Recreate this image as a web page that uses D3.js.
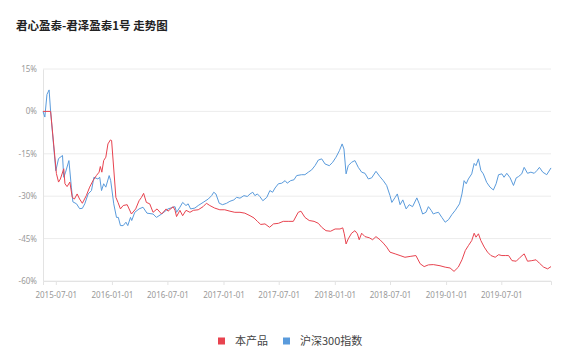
<!DOCTYPE html>
<html><head><meta charset="utf-8">
<script src="https://cdn.jsdelivr.net/npm/d3@7"></script>
<style>body{margin:0;background:#fff}svg{display:block}</style>
</head><body><svg id="c" width="580" height="357"></svg>
<script>
const title = "君心盈泰-君泽盈泰1号 走势图";
const seriesNames = ["本产品", "沪深300指数"];
const seriesColors = ["#e8434f", "#5a9bdc"];
const yTicks = [15, 0, -15, -30, -45, -60];
const xTickLabels = ["2015-07-01","2016-01-01","2016-07-01","2017-01-01","2017-07-01","2018-01-01","2018-07-01","2019-01-01","2019-07-01"];
const startDate = "2015-05-20", endDate = "2019-12-11";

const productDates = ["2015-05-20","2015-06-14","2015-07-03","2015-07-10","2015-07-16","2015-07-27","2015-07-31","2015-08-07","2015-08-16","2015-08-24","2015-08-31","2015-09-09","2015-09-17","2015-09-26","2015-10-09","2015-10-20","2015-10-31","2015-11-11","2015-11-20","2015-11-24","2015-11-29","2015-12-05","2015-12-12","2015-12-19","2015-12-27","2015-12-31","2016-01-14","2016-01-21","2016-01-29","2016-02-07","2016-02-20","2016-03-05","2016-03-19","2016-03-30","2016-04-07","2016-04-14","2016-04-23","2016-05-04","2016-05-15","2016-05-28","2016-06-12","2016-06-27","2016-07-03","2016-07-20","2016-07-26","2016-07-31","2016-08-11","2016-08-20","2016-08-31","2016-09-13","2016-09-24","2016-10-10","2016-10-26","2016-11-06","2016-11-17","2016-12-03","2016-12-20","2017-01-05","2017-01-22","2017-02-07","2017-02-24","2017-03-12","2017-03-29","2017-04-11","2017-04-22","2017-05-03","2017-05-17","2017-06-01","2017-06-14","2017-06-30","2017-07-16","2017-08-01","2017-08-18","2017-09-03","2017-09-12","2017-09-25","2017-10-09","2017-10-25","2017-11-08","2017-11-19","2017-12-03","2017-12-18","2018-01-02","2018-01-18","2018-01-27","2018-02-01","2018-02-07","2018-02-14","2018-02-25","2018-03-08","2018-03-16","2018-03-22","2018-03-30","2018-04-10","2018-04-24","2018-05-05","2018-05-16","2018-05-29","2018-06-09","2018-06-20","2018-07-01","2018-07-18","2018-08-03","2018-08-19","2018-09-05","2018-09-24","2018-10-08","2018-10-21","2018-11-04","2018-11-20","2018-12-12","2018-12-29","2019-01-14","2019-01-27","2019-02-10","2019-02-22","2019-03-05","2019-03-15","2019-03-26","2019-04-03","2019-04-09","2019-04-17","2019-04-25","2019-05-06","2019-05-17","2019-05-28","2019-06-11","2019-06-22","2019-07-03","2019-07-14","2019-07-25","2019-08-05","2019-08-19","2019-09-01","2019-09-14","2019-09-25","2019-10-09","2019-10-23","2019-11-03","2019-11-17","2019-11-30","2019-12-11"];
const productValues = [0,0,-22,-25,-23.9,-20.3,-25.6,-26.6,-25,-30.4,-31,-29.2,-31,-32.5,-29.8,-26.8,-24.5,-22.7,-21.5,-19.5,-21.5,-17.4,-16.2,-11.5,-10.1,-10.3,-30.4,-32.2,-34.5,-33.3,-33,-36.3,-34.5,-31.6,-30.4,-29,-32.2,-32.7,-35.7,-34.5,-36.3,-34.5,-35.3,-33.7,-35,-37.2,-35,-36.9,-35,-35.7,-35,-34.8,-33.7,-32.5,-33.3,-34.2,-34.8,-34.8,-35.3,-35.7,-35.7,-36,-36.9,-37.7,-38.9,-40,-39.8,-41,-39.8,-39.6,-38.9,-38.9,-38.9,-35.7,-35.3,-37.5,-38.6,-38.9,-39.6,-41,-42.2,-42.4,-41.6,-41.6,-41.2,-43.3,-46.9,-45.1,-43.1,-42.2,-43.3,-45.4,-43.1,-44.3,-44.7,-45.4,-44.3,-45.4,-46.6,-48,-49.8,-50.4,-51,-51.6,-51.3,-51,-53.9,-54.9,-54.3,-54.2,-54.6,-55.1,-55.4,-56.6,-55.1,-52.5,-49.2,-47.5,-45.7,-43.1,-44.5,-43.3,-45.7,-48,-49.8,-51,-51.6,-50.7,-51,-51,-51,-52.8,-53,-51.6,-50.4,-53,-52.8,-52.5,-53.7,-55.1,-55.7,-54.9];

const indexDates = ["2015-05-20","2015-05-26","2015-06-02","2015-06-09","2015-06-14","2015-07-01","2015-07-10","2015-07-23","2015-07-27","2015-08-02","2015-08-13","2015-08-21","2015-08-26","2015-09-07","2015-09-17","2015-09-26","2015-10-04","2015-10-15","2015-10-26","2015-11-03","2015-11-16","2015-11-22","2015-11-28","2015-12-05","2015-12-12","2015-12-23","2015-12-28","2016-01-07","2016-01-16","2016-01-22","2016-01-29","2016-02-07","2016-02-16","2016-02-22","2016-03-02","2016-03-06","2016-03-16","2016-03-30","2016-04-12","2016-04-25","2016-05-15","2016-05-26","2016-06-12","2016-07-03","2016-07-20","2016-07-26","2016-07-31","2016-08-11","2016-08-20","2016-08-31","2016-09-07","2016-09-15","2016-09-29","2016-10-10","2016-10-26","2016-11-12","2016-11-23","2016-11-30","2016-12-07","2016-12-18","2016-12-29","2017-01-11","2017-01-22","2017-02-04","2017-02-13","2017-02-24","2017-03-09","2017-03-20","2017-03-29","2017-04-07","2017-04-14","2017-04-22","2017-04-30","2017-05-10","2017-05-23","2017-06-02","2017-06-11","2017-06-19","2017-06-30","2017-07-11","2017-07-22","2017-07-29","2017-08-09","2017-08-20","2017-08-29","2017-09-14","2017-09-25","2017-10-06","2017-10-17","2017-10-28","2017-11-08","2017-11-19","2017-11-30","2017-12-14","2017-12-25","2018-01-05","2018-01-16","2018-01-25","2018-01-31","2018-02-07","2018-02-14","2018-02-25","2018-03-08","2018-03-19","2018-03-30","2018-04-10","2018-04-21","2018-05-02","2018-05-16","2018-05-29","2018-06-09","2018-06-20","2018-07-01","2018-07-07","2018-07-18","2018-07-25","2018-08-03","2018-08-12","2018-08-23","2018-09-02","2018-09-13","2018-09-27","2018-10-05","2018-10-16","2018-10-27","2018-11-04","2018-11-13","2018-11-20","2018-11-26","2018-12-07","2018-12-18","2018-12-29","2019-01-09","2019-01-20","2019-01-31","2019-02-14","2019-02-22","2019-03-01","2019-03-08","2019-03-15","2019-03-26","2019-04-03","2019-04-09","2019-04-17","2019-04-25","2019-05-03","2019-05-14","2019-05-25","2019-06-05","2019-06-14","2019-06-22","2019-07-03","2019-07-10","2019-07-19","2019-07-30","2019-08-10","2019-08-19","2019-08-26","2019-09-06","2019-09-14","2019-09-25","2019-10-06","2019-10-17","2019-10-26","2019-11-03","2019-11-14","2019-11-27","2019-12-11"];
const indexValues = [0,-2,6,7.6,0,-21,-16.7,-15.6,-23.3,-21.5,-17.4,-26.8,-32,-32.7,-34.4,-34.3,-32.7,-29.2,-28,-23.3,-23.9,-23.3,-28,-25.6,-26.8,-22.7,-24.5,-32.7,-37.5,-37.5,-40.4,-40.4,-39.2,-40.4,-37.5,-38.6,-35.7,-34.5,-33.9,-36,-36.3,-37.5,-36.3,-34.5,-33.9,-33.7,-35.7,-33.9,-32.2,-33.3,-32.7,-34.5,-34.2,-33.3,-32.2,-31,-29.8,-28.6,-29.2,-32.5,-33,-32.5,-31.8,-31.3,-30.4,-30.7,-29.8,-30.1,-29.2,-28.6,-29.8,-29.2,-30.1,-31.6,-30.4,-28,-28.6,-27.1,-25.6,-25.4,-24.5,-25.4,-24.5,-24.2,-22.7,-22.4,-22.4,-21.5,-20.7,-19.2,-17.2,-16.8,-18.6,-19.2,-18,-16.2,-13.9,-11.5,-13.3,-22.1,-19.2,-18,-17.4,-19.8,-21.5,-21.9,-23.9,-23.5,-21.2,-23.1,-24.5,-26.2,-29.8,-32.2,-30.4,-29.2,-33,-31.3,-34.5,-33,-33.7,-30.6,-32.7,-36.3,-35.7,-33.7,-35,-36.3,-36,-35.7,-37.5,-39.2,-38.3,-36.5,-35,-32.7,-29.2,-24.5,-25.6,-23.9,-22.1,-18.4,-19.2,-16.8,-20.9,-22.1,-25.1,-26.8,-27.8,-25.6,-22.4,-22.1,-23.3,-21.9,-23.5,-26.2,-23.5,-23.1,-22.1,-19.8,-21.9,-21.5,-21.9,-20.9,-19.8,-21.5,-22.4,-20];

const parse = d3.timeParse("%Y-%m-%d");
const svg = d3.select("#c");
const L = 43, R = 551, T = 69, B = 281;
const x = d3.scaleTime().domain([parse(startDate), parse(endDate)]).range([L, R]);
const y = d3.scaleLinear().domain([-60, 15]).range([B, T]);

svg.append("text").attr("x", 16).attr("y", 30).text(title)
  .attr("font-family", "'Noto Sans CJK SC', sans-serif").attr("font-weight", "bold")
  .attr("font-size", 11.5).attr("fill", "#222");

// gridlines
svg.append("g").selectAll("line").data(yTicks).join("line")
  .attr("x1", L).attr("x2", R).attr("y1", d => y(d)).attr("y2", d => y(d))
  .attr("stroke", "#ececec").attr("stroke-width", 1);

// y axis
const ya = svg.append("g").attr("transform", `translate(${L},0)`)
  .call(d3.axisLeft(y).tickValues(yTicks).tickSize(0).tickPadding(6).tickFormat(d => d + "%"));
ya.select(".domain").attr("stroke", "#e3e3e3");
ya.selectAll("text").attr("fill", "#999").attr("font-size", 8).attr("font-family", "'Noto Sans', sans-serif");

// x axis
const xa = svg.append("g").attr("transform", `translate(0,${B})`)
  .call(d3.axisBottom(x).tickValues(xTickLabels.map(parse)).tickSize(4).tickPadding(7).tickFormat(d3.timeFormat("%Y-%m-%d")));
xa.select(".domain").attr("stroke", "#e3e3e3");
xa.selectAll(".tick line").attr("stroke", "#e3e3e3");
xa.selectAll("text").attr("fill", "#999").attr("font-size", 8).attr("font-family", "'Noto Sans', sans-serif");

const line = d3.line().x(d => x(d[0])).y(d => y(d[1]));
const seriesData = [
  productDates.map((d, i) => [parse(d), productValues[i]]),
  indexDates.map((d, i) => [parse(d), indexValues[i]])
];
// draw index first, product on top
[1, 0].forEach(i => {
  svg.append("path").datum(seriesData[i]).attr("d", line)
    .attr("fill", "none").attr("stroke", seriesColors[i]).attr("stroke-width", 1)
    .attr("stroke-linejoin", "round");
});

// legend
const legendX = [218, 283];
const lg = svg.append("g");
seriesNames.forEach((n, i) => {
  lg.append("rect").attr("x", legendX[i]).attr("y", 337.5).attr("width", 7).attr("height", 7).attr("fill", seriesColors[i]);
  lg.append("text").attr("x", legendX[i] + 17).attr("y", 345).text(n)
    .attr("font-family", "'Noto Sans CJK SC', sans-serif").attr("font-size", 11).attr("fill", "#444");
});
</script></body></html>
